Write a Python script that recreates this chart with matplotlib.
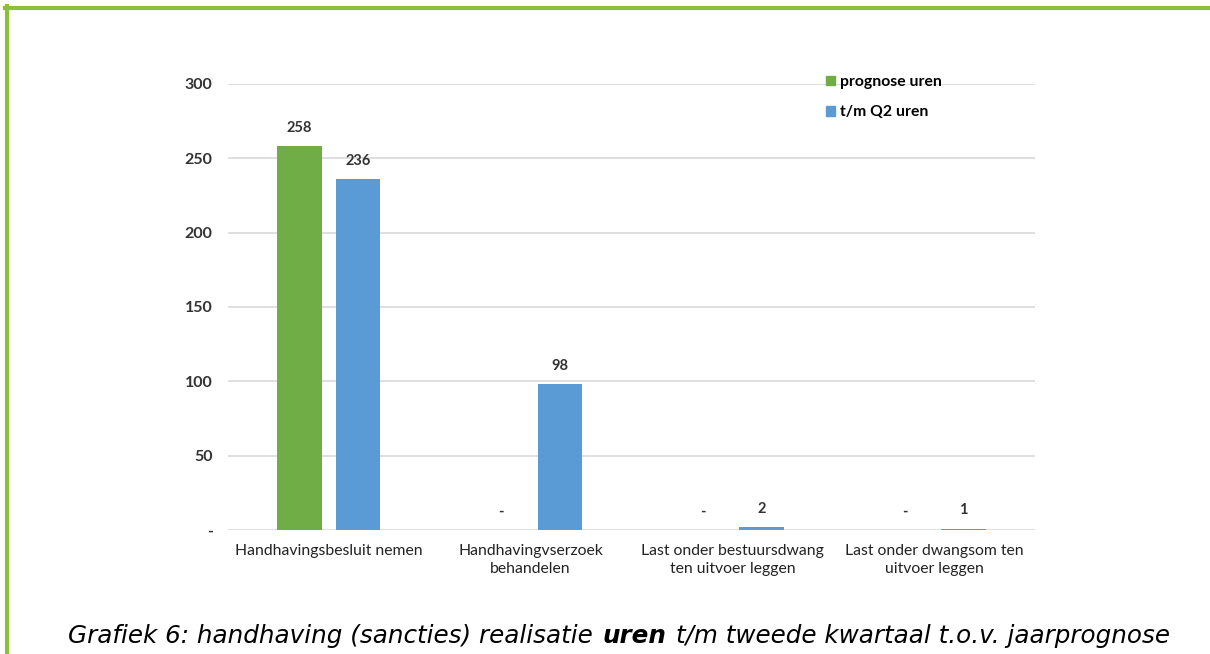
import numpy as np
import matplotlib.pyplot as plt
from matplotlib.lines import Line2D
from matplotlib.patches import Patch
from matplotlib.offsetbox import TextArea, HPacker, AnchoredOffsetbox

# data
categories = ["Handhavingsbesluit nemen", "Handhavingvserzoek\nbehandelen",
              "Last onder bestuursdwang\nten uitvoer leggen", "Last onder dwangsom ten\nuitvoer leggen"]
prognose = [258, 0, 0, 0]
realisatie = [236, 98, 2, 1]
series_names = ["prognose uren", "t/m Q2 uren"]
yticks = [0, 50, 100, 150, 200, 250, 300]

green = "#70AD47"
blue = "#5B9BD5"
chart_font = "Lato"

fig = plt.figure(figsize=(12.1, 6.54), dpi=100)
ax = fig.add_axes([228 / 1210, 1 - 530 / 654, 807 / 1210, 446 / 654])

x = np.arange(len(categories))
off, w = 0.145, 0.22
b1 = ax.bar(x - off, prognose, w, color=green, zorder=3)
b2 = ax.bar(x + off, realisatie, w, color=blue, zorder=3)

for bars in (b1, b2):
    for r in bars:
        v = r.get_height()
        ax.annotate("-" if v == 0 else f"{v:.0f}", (r.get_x() + r.get_width() / 2, v),
                    xytext=(0, 8), textcoords="offset points", ha="center", va="bottom",
                    fontsize=10.5, fontweight="bold", family=chart_font, color="#333333")

ax.set_xlim(-0.5, len(categories) - 0.5)
ax.set_ylim(0, 300)
ax.set_yticks(yticks)
ax.set_yticklabels(["-" if t == 0 else str(t) for t in yticks],
                   fontsize=11.5, fontweight="bold", family=chart_font, color="#333333")
ax.set_xticks(x)
ax.set_xticklabels(categories, fontsize=11.3, family=chart_font, color="#222222", linespacing=1.4)
ax.tick_params(length=0)
ax.tick_params(axis="y", pad=11)
ax.tick_params(axis="x", pad=10)
ax.grid(axis="y", color="#D9D9D9", linewidth=1.2, zorder=0)
for s in ax.spines.values():
    s.set_visible(False)

handles = [Patch(color=green), Patch(color=blue)]
ax.legend(handles, series_names, loc="upper left", bbox_to_anchor=(584 / 807, 1.052),
          frameon=False, handlelength=0.55, handleheight=0.55, handletextpad=0.35,
          labelspacing=1.05, prop={"family": chart_font, "weight": "bold", "size": 11.3})

# green border, top and left
border = "#8CBF3A"
fig.add_artist(Line2D([5 / 1210, 1], [1 - 8 / 654] * 2, color=border, linewidth=3, transform=fig.transFigure))
fig.add_artist(Line2D([7 / 1210] * 2, [0, 1 - 6 / 654], color=border, linewidth=3, transform=fig.transFigure))

# caption with one bold word
cap_style = dict(fontsize=17.7, style="italic", family="DejaVu Sans", color="black")
parts = [TextArea("Grafiek 6: handhaving (sancties) realisatie", textprops=cap_style),
         TextArea("uren", textprops=dict(cap_style, weight="bold")),
         TextArea("t/m tweede kwartaal t.o.v. jaarprognose", textprops=cap_style)]
box = HPacker(children=parts, align="baseline", pad=0, sep=7)
anch = AnchoredOffsetbox(loc="center left", child=box, frameon=False, pad=0, borderpad=0,
                         bbox_to_anchor=(68 / 1210, 1 - 636 / 654), bbox_transform=fig.transFigure)
fig.add_artist(anch)

fig.savefig("out.png", dpi=100)
